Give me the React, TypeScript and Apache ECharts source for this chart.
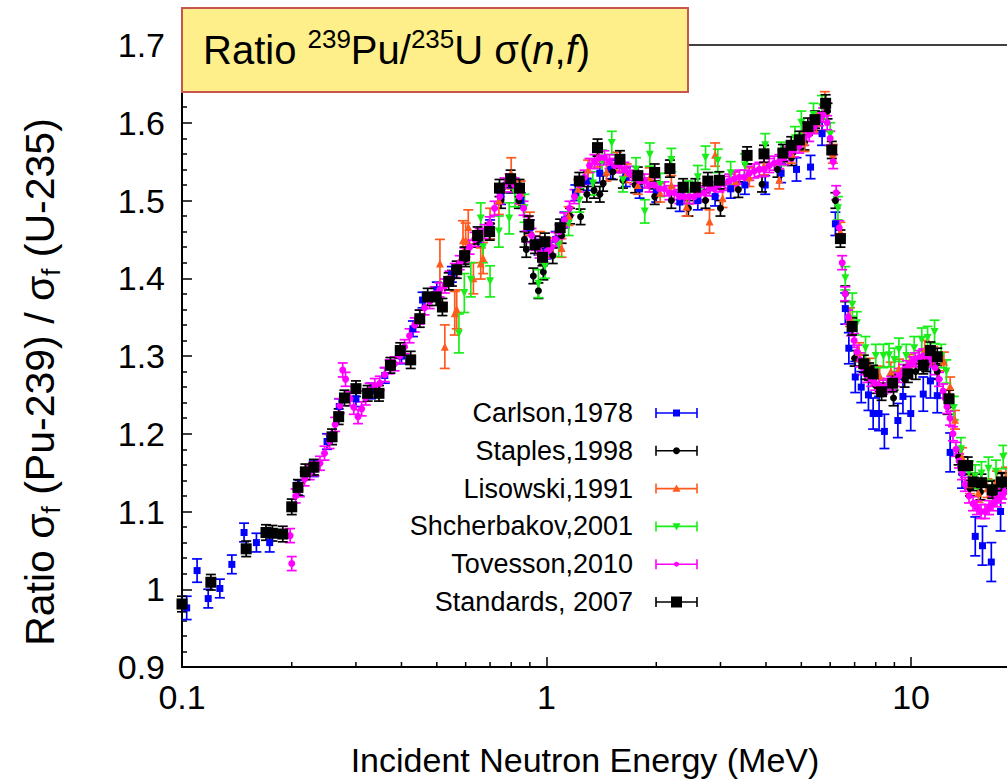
import React, { useEffect, useRef } from "react";
import * as echarts from "echarts";

const FONT = "'Liberation Sans', Arial, Helvetica, sans-serif";

// axis settings (the visible plot is cut at the right page edge, ~18.3 MeV)
const X_MIN = 0.1;
const X_MAX = 18.33;
const Y_MIN = 0.9;
const Y_MAX = 1.7;
const Y_STEP = 0.1;
const X_TICK_LABELS = [0.1, 1, 10];
const X_MINOR_TICKS = [0.2, 0.3, 0.4, 0.5, 0.6, 0.7, 0.8, 0.9, 2, 3, 4, 5, 6, 7, 8, 9];

// [energy MeV, ratio, error]
const CARLSON: number[][] = [
  [0.103, 0.976, 0.015], [0.110, 1.024, 0.015], [0.118, 0.988, 0.012], [0.127, 1.001, 0.012],
  [0.137, 1.032, 0.012], [0.148, 1.073, 0.012], [0.160, 1.060, 0.012], [0.174, 1.060, 0.012],
  [0.21, 1.13, 0.01], [0.23, 1.155, 0.01], [0.25, 1.19, 0.01], [0.27, 1.235, 0.01], [0.30, 1.245, 0.01],
  [0.33, 1.255, 0.01], [0.36, 1.275, 0.01], [0.40, 1.30, 0.01], [0.43, 1.335, 0.01], [0.457, 1.372, 0.01],
  [0.50, 1.385, 0.01], [0.55, 1.405, 0.01], [0.60, 1.43, 0.01], [0.65, 1.45, 0.01], [0.70, 1.465, 0.01],
  [0.75, 1.505, 0.01], [0.80, 1.52, 0.01], [0.85, 1.50, 0.01], [0.90, 1.465, 0.01], [0.95, 1.44, 0.01],
  [1.0, 1.435, 0.01], [1.06, 1.45, 0.01], [1.12, 1.475, 0.01], [1.2, 1.51, 0.01], [1.3, 1.525, 0.012],
  [1.4, 1.535, 0.012], [1.5, 1.54, 0.012], [1.65, 1.53, 0.012], [1.8, 1.515, 0.012], [2.0, 1.51, 0.012],
  [2.32, 1.498, 0.012], [2.6, 1.50, 0.012], [2.9, 1.505, 0.012], [3.2, 1.515, 0.012], [3.5, 1.52, 0.012],
  [3.98, 1.52, 0.012], [4.4, 1.535, 0.012], [4.85, 1.54, 0.015], [5.3, 1.543, 0.015], [5.7, 1.586, 0.015],
  [6.2, 1.47, 0.015], [6.6, 1.361, 0.02], [6.75, 1.31, 0.02], [7.03, 1.273, 0.02], [7.3, 1.26, 0.02],
  [7.64, 1.25, 0.02], [7.87, 1.226, 0.02], [8.17, 1.226, 0.022], [8.45, 1.203, 0.022], [9.2, 1.217, 0.022],
  [9.5, 1.248, 0.022], [9.98, 1.226, 0.022], [10.8, 1.251, 0.022], [11.3, 1.268, 0.022], [11.8, 1.249, 0.022],
  [12.8, 1.176, 0.025], [13.8, 1.15, 0.02], [15.0, 1.068, 0.025], [15.7, 1.056, 0.025], [16.6, 1.035, 0.025],
  [17.6, 1.10, 0.025],
];

const STAPLES: number[][] = [
  [0.55, 1.40, 0.01], [0.60, 1.425, 0.01], [0.65, 1.45, 0.01], [0.70, 1.46, 0.01], [0.75, 1.50, 0.01],
  [0.80, 1.52, 0.01], [0.84, 1.50, 0.01], [0.87, 1.45, 0.01], [0.88, 1.437, 0.01], [0.92, 1.403, 0.01],
  [0.95, 1.384, 0.01], [0.98, 1.408, 0.01], [1.04, 1.429, 0.01], [1.10, 1.455, 0.01], [1.16, 1.48, 0.01],
  [1.24, 1.479, 0.01], [1.29, 1.508, 0.01], [1.35, 1.513, 0.01], [1.40, 1.508, 0.01], [1.43, 1.522, 0.01],
  [1.52, 1.537, 0.01], [1.62, 1.526, 0.01], [1.75, 1.52, 0.01], [1.98, 1.505, 0.01], [2.2, 1.50, 0.01],
  [2.45, 1.49, 0.01], [2.73, 1.50, 0.01], [3.0, 1.49, 0.01], [3.36, 1.514, 0.01], [3.9, 1.521, 0.01],
  [4.3, 1.54, 0.01], [4.7, 1.555, 0.01], [5.1, 1.575, 0.01], [5.5, 1.60, 0.01], [5.9, 1.615, 0.01],
  [6.2, 1.50, 0.01], [6.6, 1.38, 0.01], [7.0, 1.297, 0.01], [7.5, 1.28, 0.01], [8.0, 1.262, 0.01],
  [8.95, 1.246, 0.01], [9.6, 1.27, 0.01], [10.3, 1.28, 0.01], [11.0, 1.29, 0.01], [11.8, 1.28, 0.01],
  [12.6, 1.235, 0.01], [13.5, 1.17, 0.01], [14.5, 1.13, 0.01], [15.5, 1.125, 0.01], [16.7, 1.13, 0.01],
  [17.8, 1.14, 0.01],
];

const LISOWSKI: number[][] = [
  [0.51, 1.419, 0.031], [0.526, 1.312, 0.028], [0.56, 1.355, 0.028], [0.567, 1.36, 0.025], [0.59, 1.449, 0.025],
  [0.60, 1.449, 0.022], [0.61, 1.466, 0.022], [0.63, 1.40, 0.02], [0.66, 1.419, 0.02], [0.67, 1.426, 0.02],
  [0.70, 1.47, 0.02], [0.74, 1.50, 0.018], [0.80, 1.535, 0.02], [0.85, 1.51, 0.015], [0.90, 1.47, 0.015],
  [0.96, 1.445, 0.015], [1.02, 1.44, 0.012], [1.10, 1.439, 0.012], [1.15, 1.48, 0.012], [1.22, 1.515, 0.012],
  [1.3, 1.54, 0.012], [1.38, 1.555, 0.012], [1.46, 1.537, 0.012], [1.56, 1.55, 0.012], [1.66, 1.535, 0.012],
  [1.78, 1.52, 0.012], [1.92, 1.53, 0.012], [2.05, 1.51, 0.012], [2.2, 1.52, 0.012], [2.42, 1.492, 0.012],
  [2.6, 1.51, 0.012], [2.8, 1.473, 0.015], [2.9, 1.559, 0.015], [3.04, 1.503, 0.012], [3.3, 1.525, 0.012],
  [3.6, 1.53, 0.012], [3.95, 1.545, 0.012], [4.35, 1.527, 0.012], [4.7, 1.56, 0.012], [5.1, 1.575, 0.012],
  [5.5, 1.60, 0.012], [5.8, 1.625, 0.015], [6.1, 1.56, 0.012], [6.4, 1.46, 0.012], [6.8, 1.35, 0.012],
  [7.2, 1.305, 0.012], [7.7, 1.285, 0.012], [8.2, 1.275, 0.012], [8.8, 1.28, 0.012], [9.26, 1.284, 0.012],
  [9.9, 1.29, 0.012], [10.9, 1.308, 0.012], [11.5, 1.30, 0.012], [12.3, 1.293, 0.012], [12.8, 1.261, 0.012],
  [13.2, 1.218, 0.012], [13.8, 1.17, 0.012], [14.5, 1.135, 0.012], [15.3, 1.124, 0.012], [16.2, 1.13, 0.012],
  [17.2, 1.14, 0.012], [18.2, 1.145, 0.012],
];

const SHCHERBAKOV: number[][] = [
  [0.575, 1.329, 0.025], [0.595, 1.381, 0.025], [0.62, 1.398, 0.022], [0.66, 1.477, 0.02], [0.67, 1.44, 0.02],
  [0.70, 1.396, 0.02], [0.74, 1.46, 0.02], [0.79, 1.477, 0.02], [0.82, 1.51, 0.018], [0.87, 1.49, 0.018],
  [0.95, 1.393, 0.018], [0.99, 1.415, 0.015], [1.08, 1.443, 0.015], [1.15, 1.47, 0.015], [1.23, 1.50, 0.015],
  [1.34, 1.522, 0.015], [1.42, 1.55, 0.015], [1.51, 1.574, 0.015], [1.62, 1.526, 0.015], [1.76, 1.54, 0.015],
  [1.86, 1.486, 0.015], [1.92, 1.559, 0.015], [2.05, 1.52, 0.015], [2.2, 1.552, 0.015], [2.45, 1.51, 0.015],
  [2.6, 1.53, 0.015], [2.73, 1.555, 0.015], [2.95, 1.551, 0.015], [3.2, 1.535, 0.015], [3.5, 1.545, 0.015],
  [3.98, 1.571, 0.015], [4.4, 1.56, 0.015], [4.8, 1.58, 0.015], [5.0, 1.60, 0.015], [5.4, 1.61, 0.015],
  [5.7, 1.62, 0.015], [6.0, 1.585, 0.015], [6.3, 1.49, 0.015], [6.6, 1.40, 0.015], [6.9, 1.366, 0.015],
  [7.1, 1.342, 0.015], [7.5, 1.31, 0.015], [8.0, 1.30, 0.015], [8.4, 1.30, 0.015], [8.7, 1.301, 0.015],
  [9.0, 1.295, 0.015], [9.26, 1.308, 0.015], [9.7, 1.30, 0.015], [10.2, 1.31, 0.015], [10.7, 1.321, 0.015],
  [11.1, 1.323, 0.015], [11.6, 1.331, 0.015], [12.1, 1.30, 0.015], [12.5, 1.28, 0.015], [13.1, 1.233, 0.015],
  [13.7, 1.18, 0.015], [14.4, 1.15, 0.015], [15.0, 1.145, 0.015], [15.6, 1.149, 0.015], [16.3, 1.155, 0.015],
  [17.1, 1.151, 0.015], [17.9, 1.17, 0.015], [18.6, 1.16, 0.015],
];

const TOVESSON_ERR = 0.009;
const TOVESSON: number[][] = [
  [0.198, 1.069], [0.200, 1.033], [0.205, 1.12], [0.2105, 1.128], [0.217, 1.142], [0.224, 1.15], [0.231, 1.155],
  [0.239, 1.162], [0.246, 1.175], [0.254, 1.19], [0.263, 1.212], [0.271, 1.236], [0.276, 1.282], [0.281, 1.27],
  [0.289, 1.245], [0.296, 1.234], [0.304, 1.222], [0.311, 1.232], [0.319, 1.246], [0.327, 1.256], [0.338, 1.262],
  [0.349, 1.265], [0.360, 1.276], [0.371, 1.286], [0.383, 1.29], [0.396, 1.30], [0.408, 1.312], [0.421, 1.326],
  [0.435, 1.34], [0.449, 1.35], [0.463, 1.362], [0.478, 1.37], [0.493, 1.38], [0.509, 1.385], [0.526, 1.39],
  [0.542, 1.40], [0.560, 1.41], [0.578, 1.42], [0.596, 1.43], [0.615, 1.44], [0.635, 1.45], [0.655, 1.455],
  [0.676, 1.46], [0.698, 1.47], [0.720, 1.49], [0.744, 1.505], [0.767, 1.52], [0.792, 1.525], [0.817, 1.52],
  [0.843, 1.505], [0.865, 1.49], [0.887, 1.47], [0.910, 1.455], [0.933, 1.445], [0.957, 1.435], [0.981, 1.43],
  [1.006, 1.435], [1.032, 1.44], [1.058, 1.45], [1.085, 1.46], [1.12, 1.475], [1.156, 1.49], [1.193, 1.505],
  [1.231, 1.52], [1.271, 1.53], [1.312, 1.545], [1.354, 1.55], [1.397, 1.555], [1.442, 1.555], [1.488, 1.55],
  [1.536, 1.545], [1.585, 1.545], [1.636, 1.54], [1.688, 1.535], [1.742, 1.53], [1.798, 1.525], [1.856, 1.525],
  [1.915, 1.52], [1.976, 1.52], [2.04, 1.515], [2.105, 1.515], [2.173, 1.51], [2.242, 1.51], [2.314, 1.505],
  [2.388, 1.505], [2.465, 1.505], [2.544, 1.505], [2.626, 1.508], [2.71, 1.51], [2.797, 1.515], [2.886, 1.515],
  [2.979, 1.52], [3.074, 1.522], [3.173, 1.525], [3.274, 1.528], [3.379, 1.53], [3.487, 1.53], [3.599, 1.535],
  [3.715, 1.538], [3.834, 1.54], [3.957, 1.54], [4.083, 1.545], [4.214, 1.548], [4.349, 1.55], [4.488, 1.555],
  [4.632, 1.56], [4.781, 1.565], [4.934, 1.57], [5.092, 1.58], [5.255, 1.585], [5.424, 1.595], [5.597, 1.605],
  [5.741, 1.61], [5.888, 1.60], [6.0, 1.58], [6.115, 1.55], [6.231, 1.51], [6.35, 1.465], [6.471, 1.42],
  [6.595, 1.38], [6.72, 1.35], [6.848, 1.335], [6.98, 1.32], [7.113, 1.305], [7.249, 1.295], [7.387, 1.285],
  [7.577, 1.275], [7.77, 1.27], [7.97, 1.265], [8.173, 1.262], [8.383, 1.26], [8.597, 1.262], [8.82, 1.265],
  [9.04, 1.27], [9.27, 1.275], [9.51, 1.28], [9.75, 1.285], [10.0, 1.29], [10.26, 1.295], [10.52, 1.298],
  [10.79, 1.30], [11.06, 1.30], [11.35, 1.295], [11.64, 1.285], [11.93, 1.27], [12.24, 1.255], [12.55, 1.235],
  [12.79, 1.22], [13.03, 1.20], [13.28, 1.18], [13.54, 1.165], [13.8, 1.15], [14.06, 1.135], [14.42, 1.12],
  [14.79, 1.11], [15.16, 1.105], [15.55, 1.10], [15.95, 1.10], [16.36, 1.105], [16.78, 1.11], [17.2, 1.115],
  [17.65, 1.12], [18.1, 1.125],
];

const STANDARDS: number[][] = [
  [0.100, 0.981, 0.01], [0.120, 1.009, 0.01], [0.150, 1.052, 0.01], [0.170, 1.073, 0.01], [0.177, 1.072, 0.01],
  [0.189, 1.071, 0.01], [0.200, 1.106, 0.01], [0.208, 1.131, 0.01], [0.218, 1.151, 0.01], [0.230, 1.157, 0.01],
  [0.258, 1.196, 0.01], [0.269, 1.222, 0.01], [0.279, 1.246, 0.01], [0.300, 1.258, 0.01], [0.323, 1.252, 0.01],
  [0.347, 1.252, 0.01], [0.373, 1.288, 0.01], [0.397, 1.307, 0.01], [0.424, 1.295, 0.011], [0.449, 1.348, 0.011],
  [0.472, 1.376, 0.011], [0.498, 1.376, 0.011], [0.518, 1.363, 0.011], [0.539, 1.396, 0.011], [0.567, 1.411, 0.011],
  [0.596, 1.429, 0.011], [0.647, 1.455, 0.011], [0.698, 1.46, 0.011], [0.743, 1.516, 0.011], [0.797, 1.528, 0.011],
  [0.843, 1.516, 0.011], [0.894, 1.469, 0.011], [0.93, 1.443, 0.011], [0.975, 1.427, 0.011], [0.99, 1.447, 0.011],
  [1.09, 1.465, 0.011], [1.23, 1.525, 0.011], [1.38, 1.568, 0.011], [1.59, 1.553, 0.011], [1.78, 1.532, 0.011],
  [1.98, 1.536, 0.011], [2.18, 1.541, 0.011], [2.37, 1.517, 0.011], [2.56, 1.517, 0.011], [2.77, 1.525, 0.011],
  [2.98, 1.526, 0.011], [3.55, 1.558, 0.011], [3.95, 1.56, 0.011], [4.45, 1.561, 0.011], [4.69, 1.571, 0.011],
  [4.94, 1.578, 0.011], [5.21, 1.595, 0.011], [5.45, 1.604, 0.011], [5.83, 1.625, 0.011], [6.06, 1.565, 0.011],
  [6.4, 1.451, 0.011], [6.89, 1.338, 0.011], [7.42, 1.29, 0.011], [7.67, 1.28, 0.011], [7.87, 1.277, 0.011],
  [8.3, 1.254, 0.011], [8.9, 1.265, 0.011], [9.8, 1.277, 0.011], [10.8, 1.288, 0.011], [11.3, 1.307, 0.011],
  [11.8, 1.299, 0.011], [12.7, 1.245, 0.011], [13.9, 1.159, 0.011], [14.3, 1.159, 0.011], [14.8, 1.138, 0.011],
  [15.6, 1.137, 0.011], [16.7, 1.128, 0.011], [17.7, 1.138, 0.011],
];

const LEGEND_NAMES = [
  "Carlson,1978",
  "Staples,1998",
  "Lisowski,1991",
  "Shcherbakov,2001",
  "Tovesson,2010",
  "Standards, 2007",
];

type Spec = {
  name: string;
  data: number[][];
  color: string;
  symbol: string;
  rotate: number;
  size: number;
  cap: number;
};

const SPECS: Spec[] = [
  { name: LEGEND_NAMES[0], data: CARLSON, color: "#0000ff", symbol: "rect", rotate: 0, size: 7, cap: 5 },
  { name: LEGEND_NAMES[1], data: STAPLES, color: "#000000", symbol: "circle", rotate: 0, size: 7, cap: 5 },
  { name: LEGEND_NAMES[2], data: LISOWSKI, color: "#ff5a1e", symbol: "triangle", rotate: 0, size: 8, cap: 5 },
  { name: LEGEND_NAMES[3], data: SHCHERBAKOV, color: "#19ee19", symbol: "triangle", rotate: 180, size: 8, cap: 5 },
  {
    name: LEGEND_NAMES[4],
    data: TOVESSON.map((d) => [d[0], d[1], TOVESSON_ERR]),
    color: "#ff00ff",
    symbol: "circle",
    rotate: 0,
    size: 7,
    cap: 5,
  },
  { name: LEGEND_NAMES[5], data: STANDARDS, color: "#000000", symbol: "rect", rotate: 0, size: 11, cap: 5 },
];

function errorSeries(s: Spec) {
  return {
    type: "custom",
    name: s.name + " err",
    data: s.data.map((d) => [d[0], d[1], d[2]]),
    encode: { x: 0, y: 1 },
    silent: true,
    renderItem: (_p: any, api: any) => {
      const x = api.value(0);
      const y = api.value(1);
      const e = api.value(2);
      const top = api.coord([x, y + e]);
      const bot = api.coord([x, y - e]);
      const st = { stroke: s.color, lineWidth: 1.7 };
      return {
        type: "group",
        children: [
          { type: "line", shape: { x1: top[0], y1: top[1], x2: bot[0], y2: bot[1] }, style: st },
          { type: "line", shape: { x1: top[0] - s.cap, y1: top[1], x2: top[0] + s.cap, y2: top[1] }, style: st },
          { type: "line", shape: { x1: bot[0] - s.cap, y1: bot[1], x2: bot[0] + s.cap, y2: bot[1] }, style: st },
        ],
      };
    },
  };
}

function markerSeries(s: Spec) {
  return {
    type: "scatter",
    name: s.name,
    data: s.data.map((d) => [d[0], d[1]]),
    symbol: s.symbol,
    symbolRotate: s.rotate,
    symbolSize: s.size,
    itemStyle: { color: s.color, opacity: 1 },
    silent: true,
  };
}

const LEGEND_Y0 = 413;
const LEGEND_DY = 37.8;

function legendGraphics() {
  const out: any[] = [];
  SPECS.forEach((s, i) => {
    const y = LEGEND_Y0 + i * LEGEND_DY;
    out.push({
      type: "text",
      x: 633,
      y,
      z: 50,
      style: { text: s.name, font: `27px ${FONT}`, fill: "#000", align: "right", verticalAlign: "middle" },
    });
    const st = { stroke: s.color, lineWidth: 1.6 };
    out.push({ type: "line", z: 50, shape: { x1: 656, y1: y, x2: 697, y2: y }, style: st });
    out.push({ type: "line", z: 50, shape: { x1: 656, y1: y - 5, x2: 656, y2: y + 5 }, style: st });
    out.push({ type: "line", z: 50, shape: { x1: 697, y1: y - 5, x2: 697, y2: y + 5 }, style: st });
    const cx = 676.5;
    const h = (s.symbol === "circle" && s.color === "#ff00ff" ? 5 : s.size) / 2;
    if (s.symbol === "rect") {
      out.push({ type: "rect", z: 51, shape: { x: cx - h, y: y - h, width: 2 * h, height: 2 * h }, style: { fill: s.color } });
    } else if (s.symbol === "circle") {
      out.push({ type: "circle", z: 51, shape: { cx, cy: y, r: h }, style: { fill: s.color } });
    } else if (s.rotate === 0) {
      out.push({ type: "polygon", z: 51, shape: { points: [[cx - h, y + h * 0.8], [cx + h, y + h * 0.8], [cx, y - h]] }, style: { fill: s.color } });
    } else {
      out.push({ type: "polygon", z: 51, shape: { points: [[cx - h, y - h * 0.8], [cx + h, y - h * 0.8], [cx, y + h]] }, style: { fill: s.color } });
    }
  });
  return out;
}

export default function App() {
  const ref = useRef<HTMLDivElement>(null);
  useEffect(() => {
    document.body.style.margin = "0";
    const chart = echarts.init(ref.current!, null, { renderer: "svg" });
    const series: any[] = [];
    SPECS.forEach((s) => {
      series.push(errorSeries(s));
      series.push(markerSeries(s));
    });
    series.push({
      type: "custom",
      name: "minor x ticks",
      silent: true,
      data: X_MINOR_TICKS.map((v) => [v, Y_MIN]),
      encode: { x: 0, y: 1 },
      renderItem: (_p: any, api: any) => {
        const p = api.coord([api.value(0), Y_MIN]);
        return {
          type: "line",
          shape: { x1: p[0], y1: p[1], x2: p[0], y2: p[1] - 5 },
          style: { stroke: "#000", lineWidth: 1.5 },
        };
      },
    });

    const option: any = {
      animation: false,
      backgroundColor: "#ffffff",
      grid: {
        left: 182,
        top: 45,
        height: 622,
        right: 0,
        show: false,
      },
      xAxis: [
        {
          type: "log",
          logBase: 10,
          min: X_MIN,
          max: X_MAX,
          axisLine: { show: true, lineStyle: { color: "#000", width: 2 } },
          axisTick: { show: true, inside: true, length: 10, lineStyle: { color: "#000", width: 1.5 } },
          splitLine: { show: false },
          axisLabel: {
            color: "#000",
            fontSize: 34,
            fontFamily: FONT,
            margin: 13,
            showMaxLabel: false,
            formatter: (v: number) => (X_TICK_LABELS.some((t) => Math.abs(t - v) < 1e-9) ? String(v) : ""),
          },
        },
        {
          type: "log",
          logBase: 10,
          min: X_MIN,
          max: X_MAX,
          position: "top",
          axisLine: { show: true, lineStyle: { color: "#000", width: 1.5 } },
          axisTick: { show: false },
          axisLabel: { show: false },
          splitLine: { show: false },
        },
      ],
      yAxis: {
        type: "value",
        min: Y_MIN,
        max: Y_MAX,
        interval: Y_STEP,
        axisLine: { show: true, lineStyle: { color: "#000", width: 2 } },
        axisTick: { show: true, inside: true, length: 10, lineStyle: { color: "#000", width: 1.5 } },
        minorTick: { show: true, splitNumber: 5, length: 5, lineStyle: { color: "#000", width: 1.5 } },
        splitLine: { show: false },
        axisLabel: {
          color: "#000",
          fontSize: 34,
          fontFamily: FONT,
          margin: 17,
          formatter: (v: number) => String(Math.round(v * 10) / 10),
        },
      },
      series,
      graphic: [
        {
          type: "rect",
          z: 100,
          shape: { x: 182, y: 8, width: 506, height: 84 },
          style: { fill: "#ffef8a", stroke: "#c9554f", lineWidth: 2 },
        },
        {
          type: "text",
          z: 101,
          x: 203,
          y: 50,
          style: {
            text: "{a|Ratio }{s|239}{a|Pu/}{s|235}{a|U σ(}{i|n}{a|,}{i|f}{a|)}",
            fill: "#000",
            verticalAlign: "middle",
            rich: {
              a: { fontSize: 40, fontFamily: FONT, lineHeight: 48, verticalAlign: "middle", fill: "#000" },
              i: { fontSize: 40, fontFamily: FONT, fontStyle: "italic", lineHeight: 48, verticalAlign: "middle", fill: "#000" },
              s: { fontSize: 26, fontFamily: FONT, lineHeight: 26, verticalAlign: "top", fill: "#000" },
            },
          },
        },
        {
          type: "text",
          z: 20,
          x: 585,
          y: 760,
          style: {
            text: "Incident Neutron Energy (MeV)",
            font: `34px ${FONT}`,
            fill: "#000",
            align: "center",
            verticalAlign: "middle",
          },
        },
        {
          type: "text",
          z: 20,
          x: 40,
          y: 382,
          rotation: Math.PI / 2,
          style: {
            text: "{a|Ratio σ}{s|f}{a| (Pu-239) / σ}{s|f}{a| (U-235)}",
            fill: "#000",
            align: "center",
            verticalAlign: "middle",
            rich: {
              a: { fontSize: 41, fontFamily: FONT, lineHeight: 48, verticalAlign: "middle", fill: "#000" },
              s: { fontSize: 26, fontFamily: FONT, lineHeight: 26, verticalAlign: "bottom", fill: "#000" },
            },
          },
        },
        ...legendGraphics(),
      ],
    };
    chart.setOption(option);
    return () => chart.dispose();
  }, []);
  return <div ref={ref} style={{ width: 1007, height: 780 }} />;
}
